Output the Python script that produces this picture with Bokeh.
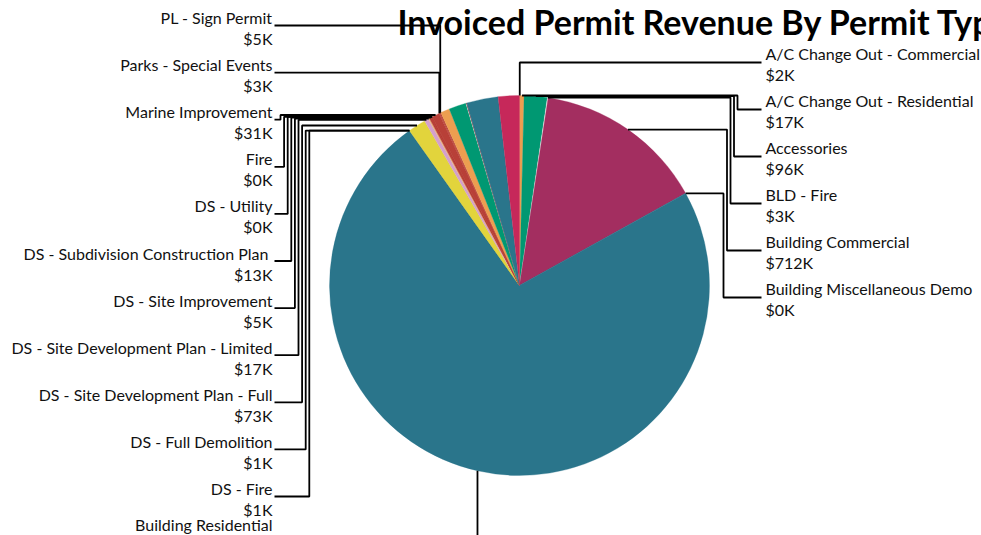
import math
from bokeh.plotting import figure
from bokeh.models import Range1d, ColumnDataSource
from bokeh.core.properties import value
from bokeh.embed import file_html
from bokeh.resources import INLINE

# ---------------- data ----------------
title_text = "Invoiced Permit Revenue By Permit Type"

categories = [
    "A/C Change Out - Commercial",
    "A/C Change Out - Residential",
    "Accessories",
    "BLD - Fire",
    "Building Commercial",
    "Building Miscellaneous Demo",
    "Building Residential",
    "DS - Fire",
    "DS - Full Demolition",
    "DS - Site Development Plan - Full",
    "DS - Site Development Plan - Limited",
    "DS - Site Improvement",
    "DS - Subdivision Construction Plan ",
    "DS - Utility",
    "Fire",
    "Marine Improvement",
    "Parks - Special Events",
    "PL - Sign Permit",
]
revenue_k = [2, 17, 96, 3, 712, 0.3, 3586, 1, 1, 73, 17, 5, 13, 0.3, 0.3, 31, 3, 5]
value_labels = ["$2K", "$17K", "$96K", "$3K", "$712K", "$0K", "", "$1K", "$1K",
                "$73K", "$17K", "$5K", "$13K", "$0K", "$0K", "$31K", "$3K", "$5K"]
slice_colors = ["#EC9E50", "#EC9E50", "#009872", "#F2F2F2", "#A32E60", "#2A758B",
                "#2A758B", "#2A758B", "#E2D43C", "#E2D43C", "#D4A0CC", "#EBB57A",
                "#B84038", "#B84038", "#B84038", "#B84038", "#B84038", "#B84038"]

# slices whose labels fall outside the visible area (continuing clockwise)
hidden_values_k = [38, 72, 2, 2, 131, 88]
hidden_colors = ["#EC9E50", "#009872", "#F2F2F2", "#7A2A30", "#2A758B", "#C6285A"]

# ---------------- layout ----------------
W, H = 981, 535
def sy(v):  # screen y (page px) -> data y
    return H - v

CX, CY, R = 519, 285, 190

all_vals = revenue_k + hidden_values_k
all_cols = slice_colors + hidden_colors
total = sum(all_vals)

starts, ends, mids = [], [], []
cum = 0.0
for v in all_vals:
    a0 = cum / total
    cum += v
    a1 = cum / total
    starts.append(math.pi / 2 - 2 * math.pi * a1)
    ends.append(math.pi / 2 - 2 * math.pi * a0)
    mids.append(2 * math.pi * (a0 + a1) / 2)

p = figure(width=W, height=H, output_backend="svg", toolbar_location=None,
           x_range=Range1d(0, W), y_range=Range1d(0, H),
           min_border=0, outline_line_color=None, background_fill_color="white")
p.axis.visible = False
p.grid.visible = False

wsrc = ColumnDataSource(dict(x=[CX] * len(all_vals), y=[sy(CY)] * len(all_vals),
                             s=starts, e=ends, c=all_cols))
p.wedge(x="x", y="y", radius=R, start_angle="s", end_angle="e",
        fill_color="c", line_color="c", line_width=0.3, source=wsrc)

# labels + leader lines
name_x, name_y = [], []
val_x, val_y = [], []
lx, ly = [], []
n = len(categories)
n_right = 6
for i in range(n):
    th = mids[i]
    ax = CX + R * math.sin(th)
    ay = CY - R * math.cos(th)
    if i < n_right:
        ny = 53 + 47 * i
        tx = 765
        anc_x, anc_y = 761, ny + 9
        ny_text = ny
        xv_default = 740.5 - 3.5 * i
    else:
        k = n - 1 - i
        raw = 17 + 47.1 * k
        ny_text = min(raw, 524)
        tx = 272
        anc_x, anc_y = 274, raw + 8
        xv_default = 280 + 3.6 * (k - 2)
    name_x.append(tx); name_y.append(sy(ny_text))
    val_x.append(tx); val_y.append(sy(ny_text + 21))
    if anc_y < ay - 5 or math.cos(th) < 0:
        xv = ax
    else:
        xv = xv_default
    lx.append([anc_x, xv, xv, ax])
    ly.append([sy(anc_y), sy(anc_y), sy(ay), sy(ay)])

p.multi_line(xs=lx, ys=ly, line_color="black", line_width=1.8)

FONT = value("Lato")
def src_for(idx, xs, ys, texts):
    keep = [i for i in idx if texts[i]]
    return ColumnDataSource(dict(x=[xs[i] for i in keep], y=[ys[i] for i in keep],
                                 t=[texts[i] for i in keep]))

right_idx = list(range(n_right))
left_idx = list(range(n_right, n))
for idx, al in ((right_idx, "left"), (left_idx, "right")):
    for xs, ys, texts in ((name_x, name_y, categories), (val_x, val_y, value_labels)):
        p.text(x="x", y="y", text="t", source=src_for(idx, xs, ys, texts),
               text_font=FONT, text_font_size="16px", text_align=al,
               text_baseline="middle", text_color="#111111")

p.text(x=[397], y=[sy(21)], text=[title_text], text_font=FONT, text_font_size="34px",
       text_font_style="bold", text_align="left", text_baseline="middle", text_color="black")

open("out.html", "w").write(file_html(p, INLINE))
